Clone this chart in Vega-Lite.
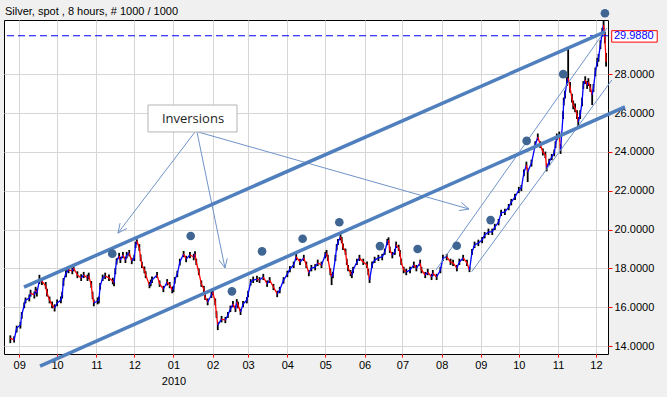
{
"$schema":"https://vega.github.io/schema/vega-lite/v6.json",
"autosize":{"type":"none"},
"padding":{"left":4,"top":20,"right":59,"bottom":43},
"width":604,"height":334,
"background":"#f0f0f0",
"config":{"view":{"fill":"white","stroke":"#000000","strokeWidth":1},
"axis":{"grid":true,"gridColor":"#d6d6d6","gridWidth":1,"domain":false,"tickColor":"#ff0000","labelFont":"Liberation Sans","labelFontSize":11,"labelColor":"#000000"}},
"datasets":{
"prices":[
{"d":"2009-08-25","c":14.41,"h":14.55,"l":14.15},
{"d":"2009-08-28","c":14.31,"h":14.50,"l":14.18},
{"d":"2009-08-30","c":14.93,"h":15.05,"l":14.70},
{"d":"2009-09-02","c":15.08,"h":15.25,"l":14.90},
{"d":"2009-09-03","c":15.60,"h":15.75,"l":15.40},
{"d":"2009-09-05","c":16.11,"h":16.25,"l":15.95},
{"d":"2009-09-06","c":16.37,"h":16.50,"l":16.20},
{"d":"2009-09-09","c":16.47,"h":16.65,"l":16.30},
{"d":"2009-09-10","c":16.73,"h":16.90,"l":16.55},
{"d":"2009-09-13","c":16.63,"h":16.80,"l":16.45},
{"d":"2009-09-14","c":16.89,"h":17.05,"l":16.70},
{"d":"2009-09-15","c":16.73,"h":16.95,"l":16.55},
{"d":"2009-09-17","c":17.40,"h":17.67,"l":17.20},
{"d":"2009-09-19","c":17.35,"h":17.50,"l":17.15},
{"d":"2009-09-22","c":17.09,"h":17.30,"l":16.95},
{"d":"2009-09-23","c":16.73,"h":16.95,"l":16.55},
{"d":"2009-09-25","c":16.37,"h":16.55,"l":16.20},
{"d":"2009-09-27","c":16.11,"h":16.30,"l":15.95},
{"d":"2009-09-29","c":15.96,"h":16.15,"l":15.78},
{"d":"2009-10-01","c":16.22,"h":16.40,"l":16.05},
{"d":"2009-10-04","c":16.37,"h":16.55,"l":16.20},
{"d":"2009-10-05","c":16.63,"h":16.80,"l":16.45},
{"d":"2009-10-06","c":17.35,"h":17.50,"l":17.10},
{"d":"2009-10-08","c":17.76,"h":17.92,"l":17.55},
{"d":"2009-10-10","c":17.92,"h":18.08,"l":17.75},
{"d":"2009-10-13","c":17.87,"h":18.02,"l":17.70},
{"d":"2009-10-14","c":18.02,"h":18.15,"l":17.85},
{"d":"2009-10-17","c":17.66,"h":17.85,"l":17.50},
{"d":"2009-10-20","c":17.51,"h":17.70,"l":17.35},
{"d":"2009-10-22","c":17.66,"h":17.82,"l":17.50},
{"d":"2009-10-25","c":17.51,"h":17.68,"l":17.35},
{"d":"2009-10-26","c":17.61,"h":17.78,"l":17.45},
{"d":"2009-10-28","c":17.14,"h":17.35,"l":17.00},
{"d":"2009-10-29","c":16.58,"h":16.80,"l":16.42},
{"d":"2009-10-30","c":16.22,"h":16.40,"l":16.05},
{"d":"2009-11-02","c":16.32,"h":16.50,"l":16.15},
{"d":"2009-11-03","c":16.37,"h":16.55,"l":16.20},
{"d":"2009-11-04","c":17.09,"h":17.25,"l":16.90},
{"d":"2009-11-06","c":17.51,"h":17.68,"l":17.35},
{"d":"2009-11-08","c":17.61,"h":17.78,"l":17.45},
{"d":"2009-11-11","c":17.51,"h":17.68,"l":17.35},
{"d":"2009-11-14","c":17.35,"h":17.52,"l":17.18},
{"d":"2009-11-15","c":17.25,"h":17.42,"l":17.08},
{"d":"2009-11-16","c":17.87,"h":18.02,"l":17.70},
{"d":"2009-11-17","c":18.38,"h":18.52,"l":18.20},
{"d":"2009-11-19","c":18.64,"h":18.80,"l":18.48},
{"d":"2009-11-20","c":18.43,"h":18.60,"l":18.28},
{"d":"2009-11-22","c":18.69,"h":18.85,"l":18.52},
{"d":"2009-11-24","c":18.43,"h":18.60,"l":18.28},
{"d":"2009-11-25","c":18.69,"h":18.85,"l":18.52},
{"d":"2009-11-27","c":18.79,"h":18.95,"l":18.62},
{"d":"2009-11-29","c":18.38,"h":18.55,"l":18.22},
{"d":"2009-12-01","c":18.54,"h":18.70,"l":18.38},
{"d":"2009-12-02","c":19.21,"h":19.38,"l":19.05},
{"d":"2009-12-03","c":19.41,"h":19.50,"l":19.25},
{"d":"2009-12-05","c":19.05,"h":19.25,"l":18.90},
{"d":"2009-12-06","c":18.54,"h":18.72,"l":18.38},
{"d":"2009-12-07","c":18.18,"h":18.35,"l":18.02},
{"d":"2009-12-09","c":17.92,"h":18.10,"l":17.75},
{"d":"2009-12-10","c":17.66,"h":17.85,"l":17.50},
{"d":"2009-12-13","c":17.14,"h":17.30,"l":16.98},
{"d":"2009-12-14","c":17.25,"h":17.42,"l":17.08},
{"d":"2009-12-15","c":17.40,"h":17.58,"l":17.25},
{"d":"2009-12-19","c":17.66,"h":17.82,"l":17.50},
{"d":"2009-12-21","c":17.20,"h":17.38,"l":17.05},
{"d":"2009-12-24","c":16.94,"h":17.10,"l":16.78},
{"d":"2009-12-27","c":17.30,"h":17.45,"l":17.12},
{"d":"2009-12-29","c":17.14,"h":17.30,"l":16.98},
{"d":"2009-12-31","c":16.89,"h":17.05,"l":16.72},
{"d":"2010-01-01","c":16.94,"h":17.10,"l":16.78},
{"d":"2010-01-02","c":17.40,"h":17.55,"l":17.22},
{"d":"2010-01-04","c":17.71,"h":17.88,"l":17.55},
{"d":"2010-01-06","c":18.33,"h":18.50,"l":18.15},
{"d":"2010-01-09","c":18.74,"h":18.90,"l":18.58},
{"d":"2010-01-11","c":18.48,"h":18.65,"l":18.32},
{"d":"2010-01-14","c":18.69,"h":18.85,"l":18.52},
{"d":"2010-01-17","c":18.59,"h":18.75,"l":18.42},
{"d":"2010-01-18","c":18.74,"h":18.88,"l":18.58},
{"d":"2010-01-19","c":18.33,"h":18.50,"l":18.18},
{"d":"2010-01-21","c":17.81,"h":18.00,"l":17.65},
{"d":"2010-01-23","c":17.20,"h":17.38,"l":17.05},
{"d":"2010-01-25","c":16.94,"h":17.10,"l":16.78},
{"d":"2010-01-26","c":16.53,"h":16.70,"l":16.38},
{"d":"2010-01-28","c":16.27,"h":16.45,"l":16.10},
{"d":"2010-01-31","c":16.63,"h":16.80,"l":16.48},
{"d":"2010-02-01","c":16.78,"h":16.95,"l":16.62},
{"d":"2010-02-03","c":16.27,"h":16.45,"l":16.10},
{"d":"2010-02-04","c":15.60,"h":15.80,"l":15.45},
{"d":"2010-02-05","c":15.08,"h":15.25,"l":14.82},
{"d":"2010-02-08","c":15.39,"h":15.55,"l":15.22},
{"d":"2010-02-11","c":15.34,"h":15.50,"l":15.18},
{"d":"2010-02-13","c":15.60,"h":15.75,"l":15.45},
{"d":"2010-02-15","c":15.91,"h":16.08,"l":15.75},
{"d":"2010-02-17","c":16.16,"h":16.32,"l":16.00},
{"d":"2010-02-19","c":15.91,"h":16.08,"l":15.75},
{"d":"2010-02-20","c":16.27,"h":16.42,"l":16.10},
{"d":"2010-02-21","c":16.11,"h":16.28,"l":15.95},
{"d":"2010-02-23","c":15.75,"h":15.92,"l":15.60},
{"d":"2010-02-25","c":16.16,"h":16.32,"l":16.00},
{"d":"2010-02-28","c":16.37,"h":16.52,"l":16.20},
{"d":"2010-03-01","c":16.68,"h":16.85,"l":16.52},
{"d":"2010-03-03","c":17.30,"h":17.45,"l":17.12},
{"d":"2010-03-05","c":17.40,"h":17.58,"l":17.25},
{"d":"2010-03-08","c":17.45,"h":17.62,"l":17.30},
{"d":"2010-03-10","c":17.40,"h":17.55,"l":17.25},
{"d":"2010-03-13","c":17.56,"h":17.72,"l":17.40},
{"d":"2010-03-16","c":17.20,"h":17.38,"l":17.05},
{"d":"2010-03-18","c":17.40,"h":17.55,"l":17.25},
{"d":"2010-03-21","c":17.04,"h":17.20,"l":16.88},
{"d":"2010-03-24","c":16.68,"h":16.85,"l":16.52},
{"d":"2010-03-26","c":16.89,"h":17.05,"l":16.72},
{"d":"2010-03-29","c":17.40,"h":17.55,"l":17.22},
{"d":"2010-04-01","c":17.71,"h":17.88,"l":17.55},
{"d":"2010-04-03","c":17.97,"h":18.12,"l":17.80},
{"d":"2010-04-06","c":18.18,"h":18.35,"l":18.02},
{"d":"2010-04-08","c":18.59,"h":18.75,"l":18.42},
{"d":"2010-04-11","c":18.33,"h":18.50,"l":18.18},
{"d":"2010-04-14","c":18.54,"h":18.70,"l":18.38},
{"d":"2010-04-16","c":18.18,"h":18.35,"l":18.02},
{"d":"2010-04-18","c":17.76,"h":17.92,"l":17.60},
{"d":"2010-04-20","c":18.02,"h":18.18,"l":17.85},
{"d":"2010-04-23","c":18.07,"h":18.22,"l":17.90},
{"d":"2010-04-25","c":18.28,"h":18.45,"l":18.12},
{"d":"2010-04-28","c":18.18,"h":18.35,"l":18.02},
{"d":"2010-05-01","c":18.69,"h":18.85,"l":18.52},
{"d":"2010-05-02","c":18.79,"h":18.95,"l":18.62},
{"d":"2010-05-03","c":18.54,"h":18.70,"l":18.38},
{"d":"2010-05-05","c":17.81,"h":18.00,"l":17.65},
{"d":"2010-05-06","c":17.56,"h":17.72,"l":17.14},
{"d":"2010-05-07","c":17.66,"h":17.82,"l":17.50},
{"d":"2010-05-09","c":18.54,"h":18.70,"l":18.38},
{"d":"2010-05-10","c":19.10,"h":19.25,"l":18.92},
{"d":"2010-05-11","c":19.36,"h":19.52,"l":19.20},
{"d":"2010-05-13","c":19.62,"h":19.77,"l":19.45},
{"d":"2010-05-14","c":19.46,"h":19.62,"l":19.30},
{"d":"2010-05-15","c":19.10,"h":19.28,"l":18.95},
{"d":"2010-05-17","c":18.85,"h":19.02,"l":18.70},
{"d":"2010-05-18","c":18.33,"h":18.50,"l":18.18},
{"d":"2010-05-19","c":18.02,"h":18.18,"l":17.85},
{"d":"2010-05-21","c":17.76,"h":17.92,"l":17.60},
{"d":"2010-05-22","c":17.66,"h":17.82,"l":17.50},
{"d":"2010-05-23","c":17.92,"h":18.08,"l":17.75},
{"d":"2010-05-26","c":18.33,"h":18.50,"l":18.18},
{"d":"2010-05-28","c":18.54,"h":18.70,"l":18.38},
{"d":"2010-05-31","c":18.33,"h":18.50,"l":18.18},
{"d":"2010-06-03","c":18.18,"h":18.35,"l":18.02},
{"d":"2010-06-04","c":17.81,"h":17.98,"l":17.65},
{"d":"2010-06-05","c":17.40,"h":17.58,"l":17.25},
{"d":"2010-06-07","c":18.18,"h":18.35,"l":18.02},
{"d":"2010-06-09","c":18.43,"h":18.60,"l":18.28},
{"d":"2010-06-12","c":18.54,"h":18.70,"l":18.38},
{"d":"2010-06-15","c":18.59,"h":18.75,"l":18.42},
{"d":"2010-06-17","c":18.85,"h":19.02,"l":18.70},
{"d":"2010-06-19","c":19.36,"h":19.52,"l":19.20},
{"d":"2010-06-20","c":19.46,"h":19.60,"l":19.30},
{"d":"2010-06-21","c":18.95,"h":19.12,"l":18.80},
{"d":"2010-06-23","c":18.69,"h":18.85,"l":18.52},
{"d":"2010-06-25","c":18.85,"h":19.00,"l":18.70},
{"d":"2010-06-26","c":19.21,"h":19.38,"l":19.05},
{"d":"2010-06-28","c":19.05,"h":19.22,"l":18.90},
{"d":"2010-06-29","c":18.79,"h":18.95,"l":18.62},
{"d":"2010-06-30","c":18.33,"h":18.50,"l":18.18},
{"d":"2010-07-02","c":17.92,"h":18.08,"l":17.75},
{"d":"2010-07-04","c":17.81,"h":17.98,"l":17.65},
{"d":"2010-07-07","c":17.92,"h":18.08,"l":17.75},
{"d":"2010-07-10","c":18.18,"h":18.35,"l":18.02},
{"d":"2010-07-12","c":18.02,"h":18.18,"l":17.85},
{"d":"2010-07-15","c":18.28,"h":18.45,"l":18.12},
{"d":"2010-07-16","c":17.92,"h":18.08,"l":17.75},
{"d":"2010-07-19","c":17.66,"h":17.82,"l":17.50},
{"d":"2010-07-21","c":17.81,"h":17.98,"l":17.65},
{"d":"2010-07-24","c":17.56,"h":17.72,"l":17.40},
{"d":"2010-07-25","c":17.76,"h":17.92,"l":17.60},
{"d":"2010-07-28","c":17.56,"h":17.72,"l":17.40},
{"d":"2010-07-31","c":17.92,"h":18.08,"l":17.75},
{"d":"2010-08-02","c":18.54,"h":18.70,"l":18.38},
{"d":"2010-08-05","c":18.59,"h":18.75,"l":18.42},
{"d":"2010-08-08","c":18.33,"h":18.50,"l":18.18},
{"d":"2010-08-10","c":18.28,"h":18.45,"l":18.12},
{"d":"2010-08-13","c":18.02,"h":18.18,"l":17.85},
{"d":"2010-08-15","c":18.33,"h":18.50,"l":18.18},
{"d":"2010-08-18","c":18.54,"h":18.70,"l":18.38},
{"d":"2010-08-21","c":18.28,"h":18.45,"l":18.12},
{"d":"2010-08-23","c":17.92,"h":18.08,"l":17.81},
{"d":"2010-08-25","c":18.85,"h":19.00,"l":18.70},
{"d":"2010-08-27","c":19.21,"h":19.38,"l":19.05},
{"d":"2010-08-30","c":19.31,"h":19.48,"l":19.15},
{"d":"2010-09-02","c":19.46,"h":19.62,"l":19.30},
{"d":"2010-09-04","c":19.72,"h":19.88,"l":19.55},
{"d":"2010-09-07","c":19.88,"h":20.05,"l":19.72},
{"d":"2010-09-10","c":19.88,"h":20.05,"l":19.72},
{"d":"2010-09-12","c":20.13,"h":20.30,"l":19.98},
{"d":"2010-09-15","c":20.39,"h":20.55,"l":20.22},
{"d":"2010-09-17","c":20.86,"h":21.02,"l":20.70},
{"d":"2010-09-20","c":20.91,"h":21.08,"l":20.75},
{"d":"2010-09-23","c":21.16,"h":21.32,"l":21.00},
{"d":"2010-09-25","c":21.42,"h":21.58,"l":21.25},
{"d":"2010-09-28","c":21.68,"h":21.85,"l":21.52},
{"d":"2010-10-01","c":22.04,"h":22.20,"l":21.88},
{"d":"2010-10-03","c":22.14,"h":22.30,"l":21.98},
{"d":"2010-10-05","c":22.92,"h":23.10,"l":22.75},
{"d":"2010-10-07","c":23.33,"h":23.50,"l":23.15},
{"d":"2010-10-08","c":22.97,"h":23.15,"l":22.45},
{"d":"2010-10-11","c":23.43,"h":23.60,"l":23.25},
{"d":"2010-10-14","c":24.36,"h":24.55,"l":24.20},
{"d":"2010-10-16","c":24.77,"h":24.95,"l":24.60},
{"d":"2010-10-18","c":24.36,"h":24.55,"l":24.20},
{"d":"2010-10-20","c":24.00,"h":24.18,"l":23.82},
{"d":"2010-10-22","c":23.85,"h":24.02,"l":23.68},
{"d":"2010-10-23","c":23.18,"h":23.40,"l":23.00},
{"d":"2010-10-25","c":23.48,"h":23.65,"l":23.30},
{"d":"2010-10-27","c":23.74,"h":23.90,"l":23.58},
{"d":"2010-10-29","c":23.95,"h":24.12,"l":23.78},
{"d":"2010-10-30","c":24.36,"h":24.55,"l":24.20},
{"d":"2010-10-31","c":24.77,"h":24.95,"l":24.60},
{"d":"2010-11-02","c":24.88,"h":25.05,"l":24.70},
{"d":"2010-11-03","c":24.10,"h":24.40,"l":23.90},
{"d":"2010-11-05","c":25.91,"h":26.10,"l":25.70},
{"d":"2010-11-05T12:00Z","c":26.58,"h":26.80,"l":26.40},
{"d":"2010-11-06T12:00Z","c":26.94,"h":27.15,"l":26.75},
{"d":"2010-11-08","c":27.61,"h":27.85,"l":27.40},
{"d":"2010-11-09","c":27.81,"h":29.36,"l":27.60},
{"d":"2010-11-10T12:00Z","c":27.30,"h":27.60,"l":27.05},
{"d":"2010-11-12","c":26.78,"h":27.00,"l":26.55},
{"d":"2010-11-13","c":26.42,"h":26.65,"l":26.20},
{"d":"2010-11-14T12:00Z","c":26.27,"h":26.50,"l":26.05},
{"d":"2010-11-16","c":25.91,"h":26.15,"l":25.70},
{"d":"2010-11-17","c":25.55,"h":25.80,"l":25.29},
{"d":"2010-11-18T12:00Z","c":25.91,"h":26.15,"l":25.70},
{"d":"2010-11-20","c":26.58,"h":26.80,"l":26.35},
{"d":"2010-11-21","c":27.45,"h":27.65,"l":27.25},
{"d":"2010-11-22T12:00Z","c":27.71,"h":27.90,"l":27.50},
{"d":"2010-11-24","c":27.45,"h":27.65,"l":27.25},
{"d":"2010-11-25","c":27.61,"h":27.80,"l":27.40},
{"d":"2010-11-26T12:00Z","c":27.30,"h":27.50,"l":27.10},
{"d":"2010-11-28","c":26.94,"h":27.15,"l":26.42},
{"d":"2010-11-29","c":27.30,"h":27.50,"l":27.10},
{"d":"2010-11-30T12:00Z","c":28.12,"h":28.35,"l":27.90},
{"d":"2010-12-02","c":28.64,"h":28.85,"l":28.40},
{"d":"2010-12-03","c":28.85,"h":29.05,"l":28.65},
{"d":"2010-12-04T12:00Z","c":29.52,"h":29.75,"l":29.30},
{"d":"2010-12-06","c":30.19,"h":30.40,"l":29.95},
{"d":"2010-12-07","c":30.55,"h":30.80,"l":30.30},
{"d":"2010-12-08","c":29.88,"h":30.20,"l":29.60},
{"d":"2010-12-09","c":28.64,"h":29.10,"l":28.40}
],
"segs":[
{"kind":"trend","d1":"2009-09-04T19:00Z","p1":17.04,"d2":"2010-12-08T02:00Z","p2":30.19},
{"kind":"trend","d1":"2009-09-17T12:00Z","p1":12.97,"d2":"2010-12-23T22:00Z","p2":26.32},
{"kind":"guide","d1":"2010-07-27T12:00Z","p1":17.92,"d2":"2010-12-09T17:00Z","p2":30.39},
{"kind":"guide","d1":"2010-08-24T17:00Z","p1":17.83,"d2":"2010-12-13T14:00Z","p2":27.71},
{"kind":"guide","d1":"2010-01-18T00:00Z","p1":25.03,"d2":"2009-11-18T02:00Z","p2":19.82},
{"kind":"guide","d1":"2010-01-19T14:00Z","p1":25.03,"d2":"2010-02-10T17:00Z","p2":18.02},
{"kind":"guide","d1":"2010-01-20T10:00Z","p1":25.03,"d2":"2010-08-22T14:00Z","p2":21.06},
{"kind":"guide","d1":"2009-11-18T02:00Z","p1":19.82,"d2":"2009-11-25T05:00Z","p2":20.06},
{"kind":"guide","d1":"2009-11-18T02:00Z","p1":19.82,"d2":"2009-11-19T19:00Z","p2":20.33},
{"kind":"guide","d1":"2010-02-10T17:00Z","p1":18.02,"d2":"2010-02-12T12:00Z","p2":18.52},
{"kind":"guide","d1":"2010-02-10T17:00Z","p1":18.02,"d2":"2010-02-06T00:00Z","p2":18.43},
{"kind":"guide","d1":"2010-08-22T14:00Z","p1":21.06,"d2":"2010-08-16T14:00Z","p2":21.40},
{"kind":"guide","d1":"2010-08-22T14:00Z","p1":21.06,"d2":"2010-08-14T19:00Z","p2":20.98}
],
"dots":[
{"d":"2009-11-13T14:00Z","p":18.76},
{"d":"2010-01-14T14:00Z","p":19.67},
{"d":"2010-02-16T05:00Z","p":16.82},
{"d":"2010-03-12T00:00Z","p":18.88},
{"d":"2010-04-13T02:00Z","p":19.53},
{"d":"2010-05-12T02:00Z","p":20.38},
{"d":"2010-06-13T05:00Z","p":19.15},
{"d":"2010-07-13T00:00Z","p":19.00},
{"d":"2010-08-12T22:00Z","p":19.17},
{"d":"2010-09-08T17:00Z","p":20.49},
{"d":"2010-10-07T05:00Z","p":24.57},
{"d":"2010-11-05T02:00Z","p":28.01},
{"d":"2010-12-08T02:00Z","p":31.15}
],
"notes":[
{"d1":"2009-12-11T20:00Z","d2":"2010-02-20T05:00Z","p1":25.03,"p2":26.42,"dt":"2010-01-16T10:00Z","pt":25.70,"text":"Inversions"}
],
"heading":[
{"d":"2009-08-20T18:00Z","p":31.22,"text":"Silver, spot , 8 hours, # 1000 / 1000"}
],
"last":[
{"p":29.988,"d1":"2010-12-13T10:00Z","d2":"2011-01-18T10:00Z","p1":29.66,"p2":30.25,"dt":"2010-12-15T05:00Z","text":"29.9880"}
]
},
"layer":[
{"data":{"name":"prices"},
"mark":{"type":"rule","color":"#000000","strokeWidth":1.8},
"encoding":{
"x":{"field":"d","type":"temporal","scale":{"type":"utc","domain":[{"year":2009,"month":8,"date":20,"utc":true},{"year":2010,"month":12,"date":10,"hours":12,"utc":true}]},
"axis":{"title":null,"tickCount":{"interval":"month","step":1},"labelExpr":"utcmonth(datum.value) == 0 ? [utcFormat(datum.value, '%m'), utcFormat(datum.value, '%Y')] : utcFormat(datum.value, '%m')","tickSize":3,"labelPadding":2,"labelLineHeight":16,"labelFlush":false,"labelOverlap":false}},
"y":{"field":"l","type":"quantitative","scale":{"domain":[13.59,30.8],"zero":false,"nice":false},
"axis":{"title":null,"orient":"right","values":[14,16,18,20,22,24,26,28],"format":".4f","tickSize":4,"labelPadding":2}},
"y2":{"field":"h"}}},
{"data":{"name":"prices"},
"transform":[{"window":[{"op":"lag","field":"c","as":"cp"},{"op":"lag","field":"d","as":"dp"}],"sort":[{"field":"d","order":"ascending"}]},{"filter":"datum.cp != null"}],
"mark":{"type":"rule","strokeWidth":1.3},
"encoding":{
"x":{"field":"dp","type":"temporal","scale":{"type":"utc","domain":[{"year":2009,"month":8,"date":20,"utc":true},{"year":2010,"month":12,"date":10,"hours":12,"utc":true}]},
"axis":{"title":null,"tickCount":{"interval":"month","step":1},"labelExpr":"utcmonth(datum.value) == 0 ? [utcFormat(datum.value, '%m'), utcFormat(datum.value, '%Y')] : utcFormat(datum.value, '%m')","tickSize":3,"labelPadding":2,"labelLineHeight":16,"labelFlush":false,"labelOverlap":false}},
"x2":{"field":"d"},
"y":{"field":"cp","type":"quantitative","scale":{"domain":[13.59,30.8],"zero":false,"nice":false},
"axis":{"title":null,"orient":"right","values":[14,16,18,20,22,24,26,28],"format":".4f","tickSize":4,"labelPadding":2}},
"y2":{"field":"c"},
"color":{"condition":{"test":"datum.c >= datum.cp","value":"#0000ff"},"value":"#ff0000"}}},
{"data":{"name":"last"},
"mark":{"type":"rule","color":"#0000ff","strokeWidth":1,"strokeDash":[7,4]},
"encoding":{"y":{"field":"p","type":"quantitative","scale":{"domain":[13.59,30.8],"zero":false,"nice":false},
"axis":{"title":null,"orient":"right","values":[14,16,18,20,22,24,26,28],"format":".4f","tickSize":4,"labelPadding":2}}}},
{"data":{"name":"segs"},
"transform":[{"filter":"datum.kind == 'guide'"}],
"mark":{"type":"rule","color":"#6f94c8","strokeWidth":1,"clip":false},
"encoding":{
"x":{"field":"d1","type":"temporal","scale":{"type":"utc","domain":[{"year":2009,"month":8,"date":20,"utc":true},{"year":2010,"month":12,"date":10,"hours":12,"utc":true}]},
"axis":{"title":null,"tickCount":{"interval":"month","step":1},"labelExpr":"utcmonth(datum.value) == 0 ? [utcFormat(datum.value, '%m'), utcFormat(datum.value, '%Y')] : utcFormat(datum.value, '%m')","tickSize":3,"labelPadding":2,"labelLineHeight":16,"labelFlush":false,"labelOverlap":false}},
"x2":{"field":"d2"},
"y":{"field":"p1","type":"quantitative","scale":{"domain":[13.59,30.8],"zero":false,"nice":false},
"axis":{"title":null,"orient":"right","values":[14,16,18,20,22,24,26,28],"format":".4f","tickSize":4,"labelPadding":2}},
"y2":{"field":"p2"}}},
{"data":{"name":"segs"},
"transform":[{"filter":"datum.kind == 'trend'"}],
"mark":{"type":"rule","color":"#4f7fbd","strokeWidth":3.5,"clip":false},
"encoding":{
"x":{"field":"d1","type":"temporal","scale":{"type":"utc","domain":[{"year":2009,"month":8,"date":20,"utc":true},{"year":2010,"month":12,"date":10,"hours":12,"utc":true}]},
"axis":{"title":null,"tickCount":{"interval":"month","step":1},"labelExpr":"utcmonth(datum.value) == 0 ? [utcFormat(datum.value, '%m'), utcFormat(datum.value, '%Y')] : utcFormat(datum.value, '%m')","tickSize":3,"labelPadding":2,"labelLineHeight":16,"labelFlush":false,"labelOverlap":false}},
"x2":{"field":"d2"},
"y":{"field":"p1","type":"quantitative","scale":{"domain":[13.59,30.8],"zero":false,"nice":false},
"axis":{"title":null,"orient":"right","values":[14,16,18,20,22,24,26,28],"format":".4f","tickSize":4,"labelPadding":2}},
"y2":{"field":"p2"}}},
{"data":{"name":"dots"},
"mark":{"type":"point","filled":true,"shape":"circle","size":75,"color":"#3f6593","opacity":1,"clip":false},
"encoding":{
"x":{"field":"d","type":"temporal","scale":{"type":"utc","domain":[{"year":2009,"month":8,"date":20,"utc":true},{"year":2010,"month":12,"date":10,"hours":12,"utc":true}]},
"axis":{"title":null,"tickCount":{"interval":"month","step":1},"labelExpr":"utcmonth(datum.value) == 0 ? [utcFormat(datum.value, '%m'), utcFormat(datum.value, '%Y')] : utcFormat(datum.value, '%m')","tickSize":3,"labelPadding":2,"labelLineHeight":16,"labelFlush":false,"labelOverlap":false}},
"y":{"field":"p","type":"quantitative","scale":{"domain":[13.59,30.8],"zero":false,"nice":false},
"axis":{"title":null,"orient":"right","values":[14,16,18,20,22,24,26,28],"format":".4f","tickSize":4,"labelPadding":2}}}},
{"data":{"name":"notes"},
"mark":{"type":"rect","fill":"#ffffff","stroke":"#b4b4b4","strokeWidth":1,"clip":false},
"encoding":{
"x":{"field":"d1","type":"temporal","scale":{"type":"utc","domain":[{"year":2009,"month":8,"date":20,"utc":true},{"year":2010,"month":12,"date":10,"hours":12,"utc":true}]},
"axis":{"title":null,"tickCount":{"interval":"month","step":1},"labelExpr":"utcmonth(datum.value) == 0 ? [utcFormat(datum.value, '%m'), utcFormat(datum.value, '%Y')] : utcFormat(datum.value, '%m')","tickSize":3,"labelPadding":2,"labelLineHeight":16,"labelFlush":false,"labelOverlap":false}},
"x2":{"field":"d2"},
"y":{"field":"p1","type":"quantitative","scale":{"domain":[13.59,30.8],"zero":false,"nice":false},
"axis":{"title":null,"orient":"right","values":[14,16,18,20,22,24,26,28],"format":".4f","tickSize":4,"labelPadding":2}},
"y2":{"field":"p2"}}},
{"data":{"name":"notes"},
"mark":{"type":"text","font":"Open Sans","fontSize":13,"color":"#222222","align":"center","baseline":"middle","clip":false},
"encoding":{
"x":{"field":"dt","type":"temporal","scale":{"type":"utc","domain":[{"year":2009,"month":8,"date":20,"utc":true},{"year":2010,"month":12,"date":10,"hours":12,"utc":true}]},
"axis":{"title":null,"tickCount":{"interval":"month","step":1},"labelExpr":"utcmonth(datum.value) == 0 ? [utcFormat(datum.value, '%m'), utcFormat(datum.value, '%Y')] : utcFormat(datum.value, '%m')","tickSize":3,"labelPadding":2,"labelLineHeight":16,"labelFlush":false,"labelOverlap":false}},
"y":{"field":"pt","type":"quantitative","scale":{"domain":[13.59,30.8],"zero":false,"nice":false},
"axis":{"title":null,"orient":"right","values":[14,16,18,20,22,24,26,28],"format":".4f","tickSize":4,"labelPadding":2}},
"text":{"field":"text"}}},
{"data":{"name":"heading"},
"mark":{"type":"text","font":"Liberation Sans","fontSize":11,"color":"#000000","align":"left","baseline":"middle","clip":false},
"encoding":{
"x":{"field":"d","type":"temporal","scale":{"type":"utc","domain":[{"year":2009,"month":8,"date":20,"utc":true},{"year":2010,"month":12,"date":10,"hours":12,"utc":true}]},
"axis":{"title":null,"tickCount":{"interval":"month","step":1},"labelExpr":"utcmonth(datum.value) == 0 ? [utcFormat(datum.value, '%m'), utcFormat(datum.value, '%Y')] : utcFormat(datum.value, '%m')","tickSize":3,"labelPadding":2,"labelLineHeight":16,"labelFlush":false,"labelOverlap":false}},
"y":{"field":"p","type":"quantitative","scale":{"domain":[13.59,30.8],"zero":false,"nice":false},
"axis":{"title":null,"orient":"right","values":[14,16,18,20,22,24,26,28],"format":".4f","tickSize":4,"labelPadding":2}},
"text":{"field":"text"}}},
{"data":{"name":"last"},
"mark":{"type":"rect","fill":"#ffffff","stroke":"#ff0000","strokeWidth":1,"clip":false},
"encoding":{
"x":{"field":"d1","type":"temporal","scale":{"type":"utc","domain":[{"year":2009,"month":8,"date":20,"utc":true},{"year":2010,"month":12,"date":10,"hours":12,"utc":true}]},
"axis":{"title":null,"tickCount":{"interval":"month","step":1},"labelExpr":"utcmonth(datum.value) == 0 ? [utcFormat(datum.value, '%m'), utcFormat(datum.value, '%Y')] : utcFormat(datum.value, '%m')","tickSize":3,"labelPadding":2,"labelLineHeight":16,"labelFlush":false,"labelOverlap":false}},
"x2":{"field":"d2"},
"y":{"field":"p1","type":"quantitative","scale":{"domain":[13.59,30.8],"zero":false,"nice":false},
"axis":{"title":null,"orient":"right","values":[14,16,18,20,22,24,26,28],"format":".4f","tickSize":4,"labelPadding":2}},
"y2":{"field":"p2"}}},
{"data":{"name":"last"},
"mark":{"type":"text","font":"Liberation Sans","fontSize":11,"color":"#0000ff","align":"left","baseline":"middle","clip":false},
"encoding":{
"x":{"field":"dt","type":"temporal","scale":{"type":"utc","domain":[{"year":2009,"month":8,"date":20,"utc":true},{"year":2010,"month":12,"date":10,"hours":12,"utc":true}]},
"axis":{"title":null,"tickCount":{"interval":"month","step":1},"labelExpr":"utcmonth(datum.value) == 0 ? [utcFormat(datum.value, '%m'), utcFormat(datum.value, '%Y')] : utcFormat(datum.value, '%m')","tickSize":3,"labelPadding":2,"labelLineHeight":16,"labelFlush":false,"labelOverlap":false}},
"y":{"field":"p","type":"quantitative","scale":{"domain":[13.59,30.8],"zero":false,"nice":false},
"axis":{"title":null,"orient":"right","values":[14,16,18,20,22,24,26,28],"format":".4f","tickSize":4,"labelPadding":2}},
"text":{"field":"text"}}}
]
}
